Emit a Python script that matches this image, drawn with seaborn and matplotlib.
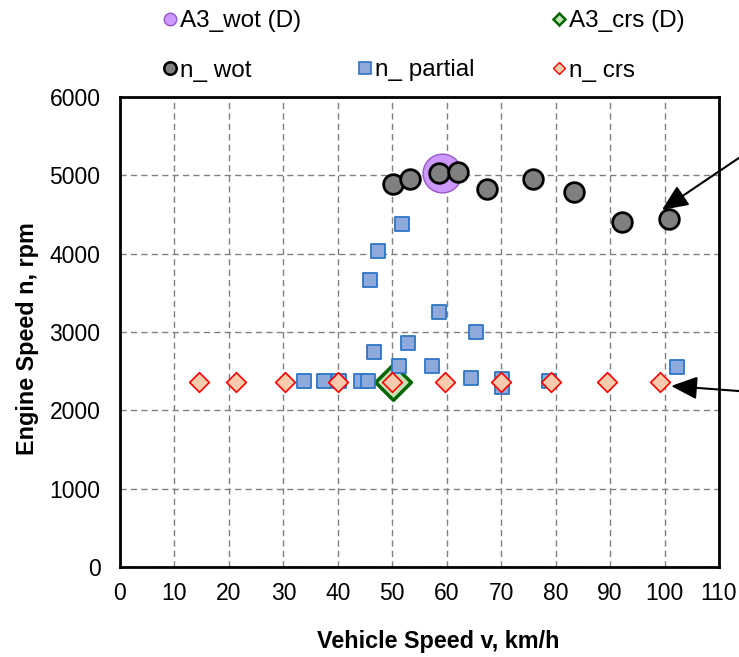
import matplotlib
matplotlib.use("Agg")
import matplotlib.pyplot as plt
from matplotlib.lines import Line2D
import seaborn as sns
import pandas as pd

# Wide-open-throttle engine speed vs vehicle speed
wot_v = [50.2, 53.3, 58.6, 62.0, 67.4, 75.8, 83.3, 92.2, 100.9]
wot_n = [4886, 4950, 5026, 5039, 4822, 4950, 4787, 4408, 4439]

# Partial-throttle points
partial_v = [33.8, 37.5, 40.2, 44.3, 45.6, 45.9, 46.6, 47.3, 51.2, 51.8,
             52.8, 57.3, 58.6, 64.4, 65.4, 70.2, 70.2, 78.7, 102.2]
partial_n = [2378, 2378, 2378, 2378, 2378, 3664, 2745, 4034, 2570, 4379,
             2856, 2570, 3252, 2409, 2996, 2395, 2300, 2375, 2557]

# Cruise points
crs_v = [14.5, 21.3, 30.3, 40.0, 50.0, 59.7, 70.0, 79.1, 89.4, 99.1]
crs_n = [2366] * 10

# Design points
a3_wot_v, a3_wot_n = [59.1], [5026]
a3_crs_v, a3_crs_n = [50.1], [2366]

x_ticks = list(range(0, 111, 10))
y_ticks = list(range(0, 6001, 1000))

sns.set_style("white")
plt.rcParams["font.family"] = ["Liberation Sans", "DejaVu Sans"]
plt.rcParams.update({"text.color": "black", "axes.labelcolor": "black",
                     "xtick.color": "black", "ytick.color": "black"})

fig = plt.figure(figsize=(7.39, 6.57), dpi=100)
ax = fig.add_axes([120 / 739, 1 - 567 / 657, 599 / 739, 470 / 657])

df_wot = pd.DataFrame({"v": wot_v, "n": wot_n})
df_part = pd.DataFrame({"v": partial_v, "n": partial_n})
df_crs = pd.DataFrame({"v": crs_v, "n": crs_n})
df_a3w = pd.DataFrame({"v": a3_wot_v, "n": a3_wot_n})
df_a3c = pd.DataFrame({"v": a3_crs_v, "n": a3_crs_n})

wot_style = dict(marker="o", facecolor="#808080", edgecolor="black")
part_style = dict(marker="s", facecolor="#8EA9DB", edgecolor="#2E75C6")
crs_style = dict(marker="D", facecolor="#F8CBAD", edgecolor="#FF0000")
a3w_style = dict(marker="o", facecolor="#CC99FF", edgecolor="#9955CC")
a3c_style = dict(marker="D", facecolor="#C5E0B4", edgecolor="#006600")

sns.scatterplot(data=df_a3w, x="v", y="n", ax=ax, s=780, linewidth=1.0,
                zorder=3, **a3w_style)
sns.scatterplot(data=df_a3c, x="v", y="n", ax=ax, s=330, linewidth=2.5,
                zorder=3, **a3c_style)
sns.scatterplot(data=df_part, x="v", y="n", ax=ax, s=110, linewidth=1.3,
                zorder=4, **part_style)
sns.scatterplot(data=df_wot, x="v", y="n", ax=ax, s=200, linewidth=2.0,
                zorder=5, **wot_style)
sns.scatterplot(data=df_crs, x="v", y="n", ax=ax, s=100, linewidth=1.2,
                zorder=6, **crs_style)

ax.set_xlim(0, 110)
ax.set_ylim(0, 6000)
ax.set_xticks(x_ticks)
ax.set_yticks(y_ticks)
ax.tick_params(axis="both", length=0, labelsize=16.5, colors="black")
ax.tick_params(axis="x", pad=11)
ax.tick_params(axis="y", pad=14)
ax.grid(True, color="#808080", linewidth=1.0, linestyle=(0, (4.5, 3)))
ax.set_axisbelow(True)
for sp in ax.spines.values():
    sp.set_color("black")
    sp.set_linewidth(2.0)

label_font = dict(family=["Liberation Sans", "DejaVu Sans"],
                  weight="bold", size=16.8)
ax.set_xlabel("Vehicle Speed v, km/h", **label_font)
ax.set_ylabel("Engine Speed n, rpm", **label_font)
ax.xaxis.set_label_coords(0.531, -0.134)
ax.yaxis.set_label_coords(-0.135, 0.487)

# Pointer arrows coming in from the right margin
arrow = dict(arrowstyle="-|>,head_length=0.8,head_width=0.35",
             color="black", lw=1.5, mutation_scale=20, shrinkA=0, shrinkB=0)
ax.annotate("", xy=(99.5, 4558), xytext=(123, 5660),
            arrowprops=arrow, annotation_clip=False)
ax.annotate("", xy=(101.2, 2311), xytext=(123, 2198),
            arrowprops=arrow, annotation_clip=False)


def handle(style, ms, lw):
    return Line2D([], [], linestyle="none", marker=style["marker"],
                  markerfacecolor=style["facecolor"],
                  markeredgecolor=style["edgecolor"],
                  markersize=ms, markeredgewidth=lw)


leg_kw = dict(loc="upper left", frameon=False, fontsize=17.5,
              handlelength=0.6, handletextpad=0.1, labelspacing=1.15,
              borderpad=0, borderaxespad=0, bbox_transform=fig.transFigure)

h_a3w = handle(a3w_style, 9, 1.0)
h_a3c = handle(a3c_style, 6.5, 1.8)
h_wot = handle(wot_style, 9, 1.8)
h_part = handle(part_style, 8, 1.2)
h_crs = handle(crs_style, 6.5, 1.0)

leg1 = fig.legend([h_a3w, h_wot], ["A3_wot (D)", "n_ wot"],
                  bbox_to_anchor=(163 / 739, 1 - 10 / 657), **leg_kw)
leg2 = fig.legend([h_part], ["n_ partial"],
                  bbox_to_anchor=(358 / 739, 1 - 59 / 657), **leg_kw)
leg3 = fig.legend([h_a3c, h_crs], ["A3_crs (D)", "n_ crs"],
                  bbox_to_anchor=(552 / 739, 1 - 10 / 657), **leg_kw)

fig.savefig("out.png", dpi=100)
